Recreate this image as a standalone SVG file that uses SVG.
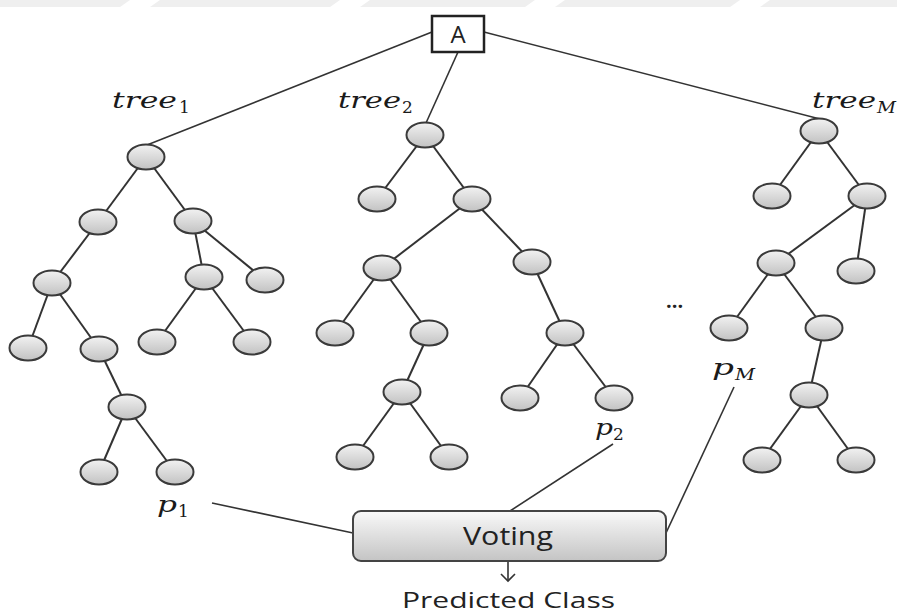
<svg xmlns="http://www.w3.org/2000/svg" width="897" height="616" viewBox="0 0 897 616">
<defs>
<linearGradient id="ng" x1="0" y1="0" x2="0" y2="1">
<stop offset="0" stop-color="#f2f2f2"/>
<stop offset="1" stop-color="#c2c2c2"/>
</linearGradient>
<linearGradient id="vg" x1="0" y1="0" x2="0" y2="1">
<stop offset="0" stop-color="#f9f9f9"/>
<stop offset="1" stop-color="#c4c4c4"/>
</linearGradient>
</defs>
<style>
.wm{fill:#efefef}
.e{stroke:#333;stroke-width:2;fill:none}
.c{stroke:#333;stroke-width:1.6;fill:none}
.n ellipse{fill:url(#ng);stroke:#3a3a3a;stroke-width:2}
.lab{font-family:"DejaVu Serif",serif;font-style:italic;font-size:23px;fill:#1a1a1a}
.sub{font-family:"DejaVu Serif",serif;font-size:17px;fill:#1a1a1a}
.subi{font-family:"DejaVu Serif",serif;font-style:italic;font-size:17px;fill:#1a1a1a}
.sans{font-family:"Open Sans","Liberation Sans",sans-serif;fill:#222}
</style>
<rect width="897" height="616" fill="#fff"/>
<g id="watermark">
<polygon class="wm" points="0,0 130,0 120,7 0,7"/>
<polygon class="wm" points="160,0 340,0 330,7 150,7"/>
<polygon class="wm" points="370,0 535,0 525,7 360,7"/>
<polygon class="wm" points="565,0 740,0 730,7 555,7"/>
<polygon class="wm" points="770,0 897,0 897,7 760,7"/>
</g>
<g id="connectors">
<line class="c" x1="432" y1="32" x2="147" y2="145"/>
<line class="c" x1="458" y1="52" x2="426" y2="123"/>
<line class="c" x1="484" y1="32" x2="820" y2="119"/>
<line class="e" x1="146" y1="157" x2="98" y2="222"/>
<line class="e" x1="146" y1="157" x2="193" y2="221"/>
<line class="e" x1="98" y1="222" x2="52" y2="283"/>
<line class="e" x1="52" y1="283" x2="28" y2="348"/>
<line class="e" x1="52" y1="283" x2="99" y2="349"/>
<line class="e" x1="99" y1="349" x2="127" y2="407"/>
<line class="e" x1="127" y1="407" x2="99" y2="472"/>
<line class="e" x1="127" y1="407" x2="175" y2="472"/>
<line class="e" x1="193" y1="221" x2="204" y2="277"/>
<line class="e" x1="193" y1="221" x2="265" y2="280"/>
<line class="e" x1="204" y1="277" x2="157" y2="342"/>
<line class="e" x1="204" y1="277" x2="252" y2="342"/>
<line class="e" x1="425" y1="135" x2="377" y2="199"/>
<line class="e" x1="425" y1="135" x2="472" y2="199"/>
<line class="e" x1="472" y1="199" x2="382" y2="268"/>
<line class="e" x1="472" y1="199" x2="532" y2="262"/>
<line class="e" x1="382" y1="268" x2="335" y2="333"/>
<line class="e" x1="382" y1="268" x2="429" y2="333"/>
<line class="e" x1="429" y1="333" x2="402" y2="392"/>
<line class="e" x1="402" y1="392" x2="355" y2="457"/>
<line class="e" x1="402" y1="392" x2="449" y2="457"/>
<line class="e" x1="532" y1="262" x2="565" y2="333"/>
<line class="e" x1="565" y1="333" x2="520" y2="398"/>
<line class="e" x1="565" y1="333" x2="614" y2="398"/>
<line class="e" x1="819" y1="131" x2="772" y2="196"/>
<line class="e" x1="819" y1="131" x2="867" y2="196"/>
<line class="e" x1="867" y1="196" x2="776" y2="263"/>
<line class="e" x1="867" y1="196" x2="856" y2="271"/>
<line class="e" x1="776" y1="263" x2="729" y2="328"/>
<line class="e" x1="776" y1="263" x2="824" y2="328"/>
<line class="e" x1="824" y1="328" x2="809" y2="395"/>
<line class="e" x1="809" y1="395" x2="762" y2="460"/>
<line class="e" x1="809" y1="395" x2="856" y2="460"/>
<line class="c" x1="212" y1="503" x2="353" y2="533"/>
<line class="c" x1="613" y1="444" x2="510" y2="511"/>
<line class="c" x1="734" y1="387" x2="666" y2="533"/>
<line class="c" x1="508" y1="561" x2="508" y2="581"/>
<polyline class="c" points="501,574 508,581 515,574"/>
</g>
<g id="root-A">
<rect x="432" y="16" width="52" height="36" fill="#fff" stroke="#222" stroke-width="2.5"/>
<text class="sans" x="458" y="43" font-size="24" text-anchor="middle">A</text>
</g>
<g id="tree1" class="n">
<ellipse cx="146" cy="157" rx="18.5" ry="12.5"/>
<ellipse cx="98" cy="222" rx="18.5" ry="12.5"/>
<ellipse cx="193" cy="221" rx="18.5" ry="12.5"/>
<ellipse cx="52" cy="283" rx="18.5" ry="12.5"/>
<ellipse cx="204" cy="277" rx="18.5" ry="12.5"/>
<ellipse cx="265" cy="280" rx="18.5" ry="12.5"/>
<ellipse cx="28" cy="348" rx="18.5" ry="12.5"/>
<ellipse cx="99" cy="349" rx="18.5" ry="12.5"/>
<ellipse cx="157" cy="342" rx="18.5" ry="12.5"/>
<ellipse cx="252" cy="342" rx="18.5" ry="12.5"/>
<ellipse cx="127" cy="407" rx="18.5" ry="12.5"/>
<ellipse cx="99" cy="472" rx="18.5" ry="12.5"/>
<ellipse cx="175" cy="472" rx="18.5" ry="12.5"/>
</g>
<g id="tree2" class="n">
<ellipse cx="425" cy="135" rx="18.5" ry="12.5"/>
<ellipse cx="377" cy="199" rx="18.5" ry="12.5"/>
<ellipse cx="472" cy="199" rx="18.5" ry="12.5"/>
<ellipse cx="382" cy="268" rx="18.5" ry="12.5"/>
<ellipse cx="532" cy="262" rx="18.5" ry="12.5"/>
<ellipse cx="335" cy="333" rx="18.5" ry="12.5"/>
<ellipse cx="429" cy="333" rx="18.5" ry="12.5"/>
<ellipse cx="565" cy="333" rx="18.5" ry="12.5"/>
<ellipse cx="402" cy="392" rx="18.5" ry="12.5"/>
<ellipse cx="355" cy="457" rx="18.5" ry="12.5"/>
<ellipse cx="449" cy="457" rx="18.5" ry="12.5"/>
<ellipse cx="520" cy="398" rx="18.5" ry="12.5"/>
<ellipse cx="614" cy="398" rx="18.5" ry="12.5"/>
</g>
<g id="treeM" class="n">
<ellipse cx="819" cy="131" rx="18.5" ry="12.5"/>
<ellipse cx="772" cy="196" rx="18.5" ry="12.5"/>
<ellipse cx="867" cy="196" rx="18.5" ry="12.5"/>
<ellipse cx="776" cy="263" rx="18.5" ry="12.5"/>
<ellipse cx="856" cy="271" rx="18.5" ry="12.5"/>
<ellipse cx="729" cy="328" rx="18.5" ry="12.5"/>
<ellipse cx="824" cy="328" rx="18.5" ry="12.5"/>
<ellipse cx="809" cy="395" rx="18.5" ry="12.5"/>
<ellipse cx="762" cy="460" rx="18.5" ry="12.5"/>
<ellipse cx="856" cy="460" rx="18.5" ry="12.5"/>
</g>
<g id="labels">
<text class="lab" x="112" y="108" textLength="65" lengthAdjust="spacingAndGlyphs">tree</text>
<text class="sub" x="179" y="113">1</text>
<text class="lab" x="338" y="108" textLength="63" lengthAdjust="spacingAndGlyphs">tree</text>
<text class="sub" x="402" y="113">2</text>
<text class="lab" x="812" y="108" textLength="64" lengthAdjust="spacingAndGlyphs">tree</text>
<text class="subi" x="877" y="113" textLength="19" lengthAdjust="spacingAndGlyphs">M</text>
<text class="lab" x="157" y="512" textLength="20" lengthAdjust="spacingAndGlyphs">p</text>
<text class="sub" x="178" y="517">1</text>
<text class="lab" x="595" y="435" textLength="18" lengthAdjust="spacingAndGlyphs">p</text>
<text class="sub" x="613" y="440">2</text>
<text class="lab" x="712" y="375" textLength="22" lengthAdjust="spacingAndGlyphs">p</text>
<text class="subi" x="735" y="380" textLength="20" lengthAdjust="spacingAndGlyphs">M</text>
<text class="sans" x="666" y="308" font-size="20" font-weight="bold">...</text>
</g>
<g id="voting">
<rect x="353" y="511" width="313" height="50" rx="8" fill="url(#vg)" stroke="#444" stroke-width="2"/>
<text class="sans" x="508" y="545" font-size="25" text-anchor="middle" textLength="90" lengthAdjust="spacingAndGlyphs">Voting</text>
</g>
<g id="predicted">
<text class="sans" x="402" y="608" font-size="21" textLength="213" lengthAdjust="spacingAndGlyphs" fill="#333">Predicted Class</text>
</g>
</svg>
